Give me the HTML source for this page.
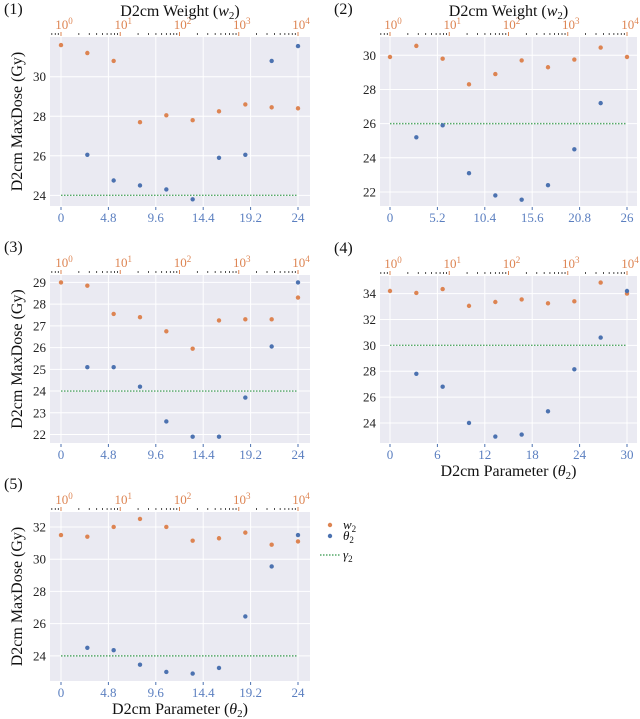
<!DOCTYPE html>
<html><head><meta charset="utf-8"><style>
body{margin:0;background:#fff;}
svg{display:block;font-family:"Liberation Serif","DejaVu Serif",serif;}
</style></head><body>
<svg id="fig" width="640" height="719" viewBox="0 0 640 719"></svg>
<script>
const orange1=[31.6,31.2,30.8,27.7,28.05,27.8,28.25,28.6,28.45,28.4];
const blue1=[26.05,24.75,24.5,24.3,23.8,25.9,26.05,30.8,31.55];
const orange2=[29.9,30.55,29.8,28.3,28.9,29.7,29.3,29.75,30.45,29.9];
const blue2=[25.2,25.9,23.1,21.8,21.55,22.4,24.5,27.2];
const orange3=[29.0,28.85,27.55,27.4,26.75,25.95,27.25,27.3,27.3,28.3];
const blue3=[25.1,25.1,24.2,22.6,21.9,21.9,23.7,26.05,29.0];
const orange4=[34.2,34.05,34.35,33.05,33.35,33.55,33.25,33.4,34.85,34.0];
const blue4=[27.8,26.8,24.0,22.95,23.1,24.9,28.15,30.6,34.2];
const orange5=[31.5,31.4,32.0,32.5,32.0,31.15,31.3,31.65,30.9,31.1];
const blue5=[24.5,24.35,23.45,23.0,22.9,23.25,26.45,29.55,31.5];
const greens=[24,26,24,30,24];
const xTicks1=["0","4.8","9.6","14.4","19.2","24"];
const xTicks2=["0","5.2","10.4","15.6","20.8","26"];
const xTicks4=["0","6","12","18","24","30"];
const yTicks1=[24,26,28,30];
const yTicks2=[22,24,26,28,30];
const yTicks3=[22,23,24,25,26,27,28,29];
const yTicks4=[24,26,28,30,32,34];
const yTicks5=[24,26,28,30,32];

const NS="http://www.w3.org/2000/svg";
const svg=document.getElementById('fig');
function el(tag,attrs,parent,text){const e=document.createElementNS(NS,tag);for(const k in attrs)e.setAttribute(k,attrs[k]);if(text!==undefined)e.textContent=text;(parent||svg).appendChild(e);return e;}
const OR="#dd8452",BL="#4c72b0",GR="#55a868";
const panels=[
 {id:1,rl:50,rr:310,dl:61,dr:298,top:37,bot:206,ymin:23.46,ymax:32.01,xmax:24,xt:xTicks1,yt:yTicks1,o:orange1,b:blue1,g:greens[0],title:true,ylab:true,xlab:false},
 {id:2,rl:380,rr:637,dl:390,dr:627,top:37,bot:206,ymin:21.18,ymax:31.07,xmax:26,xt:xTicks2,yt:yTicks2,o:orange2,b:blue2,g:greens[1],title:true,ylab:false,xlab:false},
 {id:3,rl:50,rr:310,dl:61,dr:298,top:275,bot:443,ymin:21.61,ymax:29.34,xmax:24,xt:xTicks1,yt:yTicks3,o:orange3,b:blue3,g:greens[2],title:false,ylab:true,xlab:false},
 {id:4,rl:380,rr:637,dl:390,dr:627,top:276,bot:443,ymin:22.45,ymax:35.36,xmax:30,xt:xTicks4,yt:yTicks4,o:orange4,b:blue4,g:greens[3],title:false,ylab:false,xlab:true},
 {id:5,rl:50,rr:310,dl:61,dr:298,top:512,bot:681,ymin:22.44,ymax:32.93,xmax:24,xt:xTicks1,yt:yTicks5,o:orange5,b:blue5,g:greens[4],title:false,ylab:true,xlab:true}
];
panels.forEach(p=>{
 const g=el('g',{},svg);
 
 
 const X=v=>p.dl+(v/p.xmax)*(p.dr-p.dl);
 const Y=v=>p.bot-(v-p.ymin)/(p.ymax-p.ymin)*(p.bot-p.top);
 const bg=el('rect',{x:p.rl,y:p.top,width:p.rr-p.rl,height:p.bot-p.top,fill:"#eaeaf2"},g);
 
 
 p.xt.forEach((t,i)=>{const x=X(parseFloat(t));
  el('line',{x1:x,x2:x,y1:p.top,y2:p.bot,stroke:"#fff","stroke-width":1},g);
  el('line',{x1:x,x2:x,y1:p.bot+1,y2:p.bot+4,stroke:BL,"stroke-width":1},g);
  const tl=el('text',{x:x,y:p.bot+16,"font-size":13,fill:"#5b7fc0","text-anchor":"middle"},g,t);
  
  
 });
 p.yt.forEach(v=>{const y=Y(v);
  el('line',{x1:p.rl,x2:p.rr,y1:y,y2:y,stroke:"#fff","stroke-width":1},g);
  const tl=el('text',{x:p.rl-4,y:y+4.5,"font-size":13,fill:"#222","text-anchor":"end"},g,String(v));
  
  
 });
 const LX=l=>p.dl+(l/4)*(p.dr-p.dl);
 for(let k=0;k<4;k++)for(let m=2;m<10;m++){const x=LX(k+Math.log10(m));el('line',{x1:x,x2:x,y1:p.top-4,y2:p.top-2,stroke:"#222","stroke-width":0.8},g);}
 for(let m=6;m<10;m++){const x=LX(Math.log10(m)-1); if(x>p.rl)el('line',{x1:x,x2:x,y1:p.top-4,y2:p.top-2,stroke:"#222","stroke-width":0.8},g);}
 for(let k=0;k<=4;k++){const x=LX(k);
  el('line',{x1:x,x2:x,y1:p.top-5,y2:p.top-1,stroke:OR,"stroke-width":1},g);
  const tl=el('text',{x:x+3,y:p.top-8,"font-size":13,fill:OR,"text-anchor":"middle"},g);
  
  
  el('tspan',{},tl,"10");el('tspan',{dy:-5,"font-size":9},tl,String(k));
 }
 const gy=Y(p.g);
 const gl=el('line',{x1:p.dl,x2:p.dr,y1:gy,y2:gy,stroke:GR,"stroke-width":1.4,"stroke-dasharray":"1.5,1.5"},g);
 
 
 p.o.forEach((v,i)=>{const c=el('circle',{cx:X(i*p.xmax/9),cy:Y(v),r:2.2,fill:OR},g);
  
  });
 p.b.forEach((v,i)=>{const c=el('circle',{cx:X((i+1)*p.xmax/9),cy:Y(v),r:2.2,fill:BL},g);
  
  });
 const pl=el('text',{x:p.rl-46,y:p.top-23,"font-size":16,fill:"#111"},g,"("+p.id+")");
 
 
 if(p.title){const t=el('text',{x:(p.rl+p.rr)/2,y:16,"font-size":16,fill:"#111","text-anchor":"middle"},g);
  
  
  el('tspan',{},t,"D2cm Weight (");el('tspan',{"font-style":"italic"},t,"w");el('tspan',{dy:3,"font-size":11},t,"2");el('tspan',{dy:-3},t,")");}
 if(p.xlab){const t=el('text',{x:(p.rl+p.rr)/2,y:p.bot+33,"font-size":16,fill:"#111","text-anchor":"middle"},g);
  
  
  el('tspan',{},t,"D2cm Parameter (");el('tspan',{"font-style":"italic"},t,"θ");el('tspan',{dy:3,"font-size":11},t,"2");el('tspan',{dy:-3},t,")");}
 if(p.ylab){const cy=(p.top+p.bot)/2;const t=el('text',{x:0,y:0,"font-size":16,fill:"#111","text-anchor":"middle",transform:`translate(22,${cy}) rotate(-90)`},g,"D2cm MaxDose (Gy)");
  
  }
});
const lg=el('g',{},svg);


[[OR,"w",525],[BL,"θ",536]].forEach(([c,s,y])=>{
 const e=el('g',{},lg);
 
 
 el('circle',{cx:330,cy:y,r:2.2,fill:c},e);
 const t=el('text',{x:343,y:y+4,"font-size":13,fill:"#111"},e);
 el('tspan',{"font-style":"italic"},t,s);el('tspan',{dy:3,"font-size":9},t,"2");
});
const ge=el('g',{},lg);


el('line',{x1:320,x2:340,y1:555,y2:555,stroke:GR,"stroke-width":1.4,"stroke-dasharray":"1.5,1.5"},ge);
const gt=el('text',{x:343,y:559,"font-size":13,fill:"#111"},ge);
el('tspan',{"font-style":"italic"},gt,"γ");el('tspan',{dy:3,"font-size":9},gt,"2");
</script>
</body></html>
